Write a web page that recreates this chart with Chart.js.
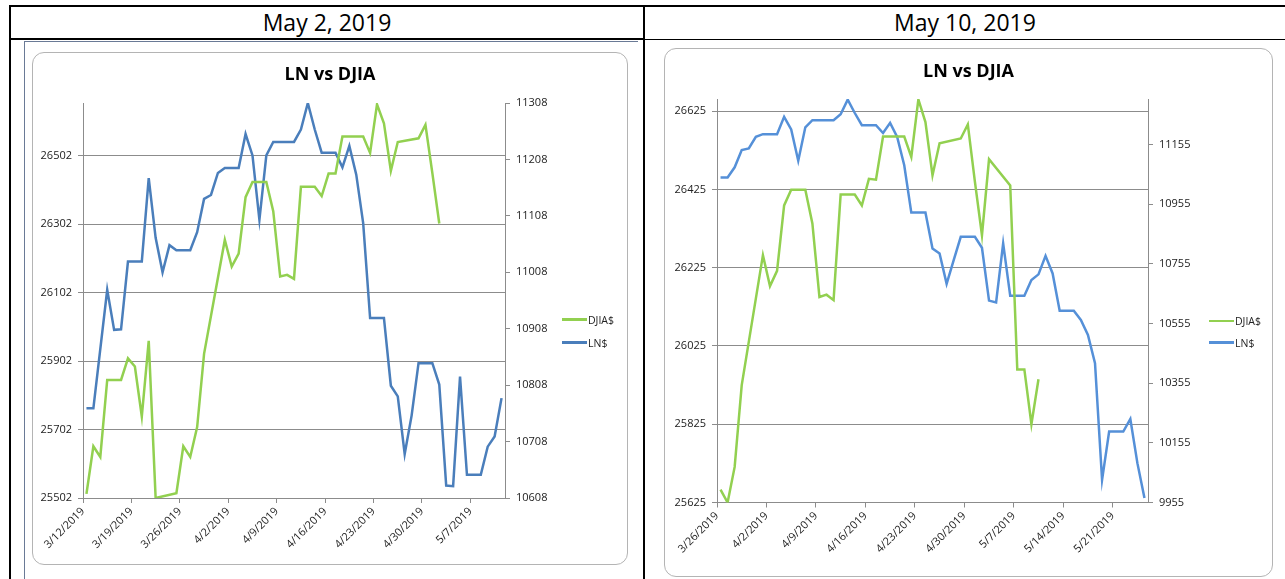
<!DOCTYPE html>
<html>
<head>
<meta charset="utf-8">
<script src="https://cdn.jsdelivr.net/npm/chart.js@4.4.1/dist/chart.umd.min.js"></script>
<style>
  html, body { margin: 0; padding: 0; background: #fff; }
  body { width: 1285px; height: 579px; position: relative; overflow: hidden; font-family: "Open Sans", sans-serif; }
  .rule { position: absolute; background: #000; }
  .head { position: absolute; top: 7px; height: 31px; line-height: 31px; text-align: center; font-size: 23px; color: #000; }
  .frame { position: absolute; box-sizing: border-box; border: 1.5px solid #b4b4b4; border-radius: 12px; background: #fff; }
  canvas { position: absolute; }
  .lg-line { position: absolute; height: 2.5px; }
  .lg-text { position: absolute; font-size: 10.5px; line-height: 12px; color: #222; }
</style>
</head>
<body>
<!-- table rules -->
<div class="rule" style="left:9px;top:5px;width:1276px;height:2px"></div>
<div class="rule" style="left:9px;top:5px;width:2px;height:574px"></div>
<div class="rule" style="left:9px;top:38px;width:636px;height:2px"></div>
<div class="rule" style="left:643px;top:39px;width:642px;height:1px"></div>
<div class="rule" style="left:643px;top:5px;width:2px;height:574px"></div>
<div class="rule" style="left:24px;top:40.5px;width:614px;height:1px;background:#6a7a96"></div>
<div class="rule" style="left:24px;top:40.5px;width:1px;height:539px;background:#6a7a96"></div>

<div class="head" style="left:11px;width:632px">May 2, 2019</div>
<div class="head" style="left:645px;width:640px">May 10, 2019</div>

<div class="frame" style="left:32px;top:52px;width:596px;height:513px"></div>
<div class="frame" style="left:664px;top:48px;width:609px;height:529px"></div>
<canvas id="may2" width="596" height="513" style="left:32px;top:52px"></canvas>
<canvas id="may10" width="609" height="529" style="left:664px;top:48px"></canvas>

<script>
// ---- data: May 2, 2019 chart ----
const may2Range = ["3/12/2019", "5/12/2019"];
const may2XTicks = ["3/12/2019", "3/19/2019", "3/26/2019", "4/2/2019", "4/9/2019", "4/16/2019", "4/23/2019", "4/30/2019", "5/7/2019"];
const may2LeftTicks = [25502, 25702, 25902, 26102, 26302, 26502];
const may2LeftRange = [25502, 26656];
const may2RightTicks = [10608, 10708, 10808, 10908, 11008, 11108, 11208, 11308];
const may2RightRange = [10608, 11308];

const may2DjiaDates = ["3/12", "3/13", "3/14", "3/15", "3/17", "3/18", "3/19", "3/20", "3/21", "3/22",
  "3/25", "3/26", "3/27", "3/28", "3/29", "4/1", "4/2", "4/3", "4/4", "4/5",
  "4/7", "4/8", "4/9", "4/10", "4/11", "4/12", "4/14", "4/15", "4/16", "4/17",
  "4/18", "4/21", "4/22", "4/23", "4/24", "4/25", "4/26", "4/29", "4/30", "5/1", "5/2"];
const may2Djia = [25514, 25653, 25622, 25847, 25847, 25910, 25886, 25740, 25961, 25502,
  25516, 25653, 25622, 25709, 25923, 26256, 26178, 26216, 26381, 26425,
  26425, 26340, 26149, 26154, 26142, 26411, 26411, 26384, 26450, 26450,
  26558, 26558, 26510, 26652, 26597, 26458, 26542, 26553, 26592, 26451, 26304];

const may2LnDates = ["3/12", "3/13", "3/15", "3/16", "3/17", "3/18", "3/20", "3/21", "3/22", "3/23",
  "3/24", "3/25", "3/27", "3/28", "3/29", "3/30", "3/31", "4/1", "4/3", "4/4",
  "4/5", "4/6", "4/7", "4/8", "4/11", "4/12", "4/13", "4/14", "4/15", "4/17",
  "4/18", "4/19", "4/20", "4/21", "4/22", "4/24", "4/25", "4/26", "4/27", "4/28",
  "4/29", "5/1", "5/2", "5/3", "5/4", "5/5", "5/6", "5/8", "5/9", "5/10", "5/11"];
const may2Ln = [10767, 10767, 10977, 10906, 10907, 11027, 11027, 11175, 11069, 11008,
  11056, 11047, 11047, 11079, 11138, 11145, 11184, 11193, 11193, 11253,
  11215, 11101, 11215, 11239, 11239, 11261, 11308, 11261, 11220, 11220,
  11194, 11232, 11181, 11095, 10927, 10927, 10807, 10788, 10686, 10754,
  10847, 10847, 10809, 10630, 10629, 10823, 10649, 10649, 10699, 10717, 10785];

// ---- data: May 10, 2019 chart ----
const may10Range = ["3/26/2019", "5/26/2019"];
const may10XTicks = ["3/26/2019", "4/2/2019", "4/9/2019", "4/16/2019", "4/23/2019", "4/30/2019", "5/7/2019", "5/14/2019", "5/21/2019"];
const may10LeftTicks = [25625, 25825, 26025, 26225, 26425, 26625];
const may10LeftRange = [25625, 26656];
const may10RightTicks = [9955, 10155, 10355, 10555, 10755, 10955, 11155];
const may10RightRange = [9955, 11308];

const may10DjiaDates = ["3/26", "3/27", "3/28", "3/29", "4/1", "4/2", "4/3", "4/4", "4/5", "4/7",
  "4/8", "4/9", "4/10", "4/11", "4/12", "4/14", "4/15", "4/16", "4/17", "4/18",
  "4/21", "4/22", "4/23", "4/24", "4/25", "4/26", "4/29", "4/30", "5/1", "5/2",
  "5/3", "5/6", "5/7", "5/8", "5/9", "5/10"];
const may10Djia = [25658, 25625, 25716, 25925, 26257, 26178, 26217, 26384, 26424, 26424,
  26338, 26150, 26156, 26142, 26412, 26412, 26384, 26452, 26450, 26560,
  26560, 26508, 26655, 26597, 26461, 26543, 26555, 26591, 26445, 26308,
  26502, 26435, 25965, 25965, 25825, 25940];

const may10LnDates = ["3/26", "3/27", "3/28", "3/29", "3/30", "3/31", "4/1", "4/3", "4/4", "4/5",
  "4/6", "4/7", "4/8", "4/11", "4/12", "4/13", "4/14", "4/15", "4/17", "4/18",
  "4/19", "4/20", "4/21", "4/22", "4/24", "4/25", "4/26", "4/27", "4/28", "4/29",
  "5/1", "5/2", "5/3", "5/4", "5/5", "5/6", "5/8", "5/9", "5/10", "5/11",
  "5/12", "5/13", "5/15", "5/16", "5/17", "5/18", "5/19", "5/20", "5/22", "5/23",
  "5/24", "5/25"];
const may10Ln = [11045, 11045, 11079, 11137, 11142, 11181, 11190, 11190, 11248, 11206,
  11101, 11213, 11237, 11237, 11257, 11306, 11261, 11220, 11220, 11194,
  11228, 11181, 11086, 10927, 10927, 10807, 10790, 10688, 10768, 10846,
  10846, 10809, 10632, 10626, 10824, 10648, 10648, 10701, 10720, 10782,
  10723, 10598, 10598, 10567, 10517, 10422, 10031, 10193, 10193, 10235,
  10087, 9970];

// ---- helpers ----
const AXIS_GRAY = "#8c8c8c";
const TICK_FONT = { family: "Open Sans", size: 11 };

// day number of "M/D" or "M/D/YYYY"
function dayNum(s) {
  const p = s.split("/").map(Number);
  return Date.UTC(p[2] || 2019, p[0] - 1, p[1]) / 86400000;
}

// Excel date axis: each point sits in the middle of its day slot
function toPoints(dates, values, start) {
  const s0 = dayNum(start);
  return dates.map((d, i) => ({ x: dayNum(d) - s0 + 0.5, y: values[i] }));
}

function fixedTicks(values) {
  return (scale) => { scale.ticks = values.map((v) => ({ value: v })); };
}

const plain = (v) => String(v);

function drawChart(id, c) {
  const s0 = dayNum(c.range[0]);
  const xTickDays = c.xTicks.map((t) => dayNum(t) - s0);
  new Chart(document.getElementById(id), {
    type: "line",
    data: {
      datasets: [
        { label: "DJIA$", data: toPoints(c.djiaDates, c.djia, c.range[0]), yAxisID: "yL",
          borderColor: c.green, borderWidth: 2.5, pointRadius: 0, tension: 0 },
        { label: "LN$", data: toPoints(c.lnDates, c.ln, c.range[0]), yAxisID: "yR",
          borderColor: c.blue, borderWidth: 2.5, pointRadius: 0, tension: 0 },
      ],
    },
    options: {
      responsive: false,
      animation: false,
      layout: { padding: 0 },
      plugins: {
        legend: { display: false },
        tooltip: { enabled: false },
        title: {
          display: true, text: "LN vs DJIA", color: "#000",
          font: { family: "Open Sans", size: 18, weight: "bold" },
          padding: { top: c.box.titleTop, bottom: c.box.titleBottom },
        },
      },
      scales: {
        x: {
          type: "linear", min: 0, max: dayNum(c.range[1]) - s0,
          afterBuildTicks: fixedTicks(xTickDays),
          afterFit: (s) => { s.height = c.box.xH; },
          ticks: { callback: (v, i) => c.xTicks[i], autoSkip: false, minRotation: 45, maxRotation: 45,
            font: TICK_FONT, color: "#222", padding: 2 },
          grid: { drawOnChartArea: false, color: AXIS_GRAY, tickLength: 5 },
          border: { color: AXIS_GRAY },
        },
        yL: {
          position: "left", min: c.leftRange[0], max: c.leftRange[1],
          afterBuildTicks: fixedTicks(c.leftTicks),
          afterFit: (s) => { s.width = c.box.yLW; },
          ticks: { callback: plain, font: TICK_FONT, color: "#222", padding: 6 },
          grid: { color: AXIS_GRAY, tickLength: 5 },
          border: { color: AXIS_GRAY },
        },
        yR: {
          position: "right", min: c.rightRange[0], max: c.rightRange[1],
          afterBuildTicks: fixedTicks(c.rightTicks),
          afterFit: (s) => { s.width = c.box.yRW; },
          ticks: { callback: plain, font: TICK_FONT, color: "#222", padding: 6 },
          grid: { drawOnChartArea: false, color: AXIS_GRAY, tickLength: 5 },
          border: { color: AXIS_GRAY },
        },
      },
    },
  });

  // legend to the right of the plot
  [["DJIA$", c.green, c.legend.y1], ["LN$", c.blue, c.legend.y2]].forEach(([label, color, y]) => {
    const line = document.createElement("div");
    line.className = "lg-line";
    line.style.cssText = `left:${c.legend.x}px;top:${y - 1.25}px;width:25px;background:${color}`;
    const txt = document.createElement("div");
    txt.className = "lg-text";
    txt.style.cssText = `left:${c.legend.x + 26}px;top:${y - 6}px`;
    txt.textContent = label;
    document.body.appendChild(line);
    document.body.appendChild(txt);
  });
}

drawChart("may2", {
  range: may2Range, xTicks: may2XTicks,
  leftTicks: may2LeftTicks, leftRange: may2LeftRange,
  rightTicks: may2RightTicks, rightRange: may2RightRange,
  djiaDates: may2DjiaDates, djia: may2Djia, lnDates: may2LnDates, ln: may2Ln,
  green: "#92d050", blue: "#4a7ebb",
  box: { yLW: 51, yRW: 123, xH: 67, titleTop: 12.2, titleBottom: 17.2 },
  legend: { x: 562, y1: 319.5, y2: 342.5 },
});

drawChart("may10", {
  range: may10Range, xTicks: may10XTicks,
  leftTicks: may10LeftTicks, leftRange: may10LeftRange,
  rightTicks: may10RightTicks, rightRange: may10RightRange,
  djiaDates: may10DjiaDates, djia: may10Djia, lnDates: may10LnDates, ln: may10Ln,
  green: "#92d050", blue: "#5590d8",
  box: { yLW: 53, yRW: 125, xH: 74.5, titleTop: 13.2, titleBottom: 16.2 },
  legend: { x: 1209, y1: 321, y2: 342.5 },
});
</script>
</body>
</html>
